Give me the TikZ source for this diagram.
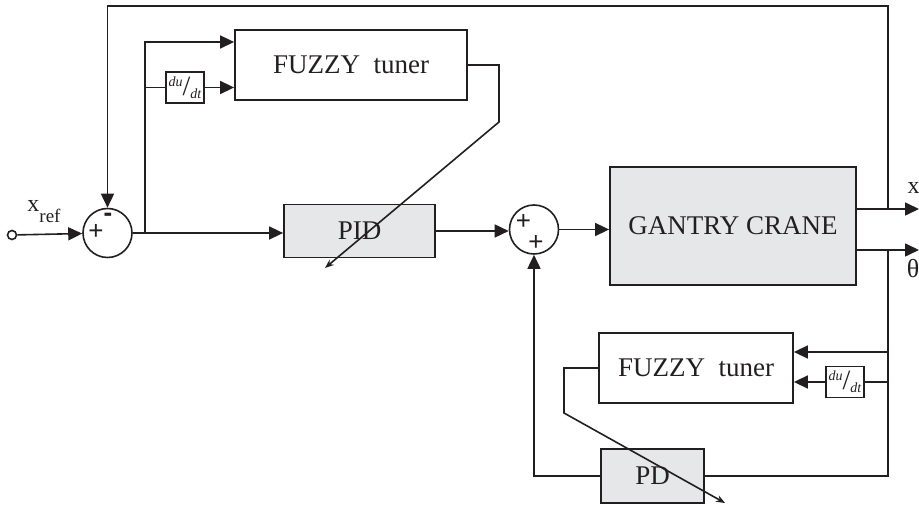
\documentclass[tikz,border=0pt]{standalone}
\usepackage{fontspec}
\setmainfont{Liberation Serif}
\newfontfamily\signfont{Liberation Sans}
\usetikzlibrary{arrows.meta,positioning,calc}
\definecolor{ink}{RGB}{35,31,32}
\definecolor{blockgray}{RGB}{230,231,232}
\newcommand{\dudt}{\raisebox{2pt}{\fontsize{7}{8}\selectfont\itshape du}\raisebox{-2.5pt}{\fontsize{14}{14}\selectfont/}\raisebox{-4pt}{\fontsize{7}{8}\selectfont\itshape dt}}

\begin{document}
\begin{tikzpicture}[x=0.5pt,y=-0.5pt,color=ink,line width=0.8pt,
  >={Triangle[length=7pt,width=6.5pt]},
  block/.style={draw,line width=0.9pt,inner sep=0pt,font=\fontsize{13.5}{15}\selectfont},
  grayblock/.style={block,fill=blockgray},
  sumnode/.style={circle,draw,minimum size=24.5pt,inner sep=0pt},
  dbox/.style={draw,minimum width=19pt,minimum height=15.5pt,inner sep=0pt},
  sign/.style={inner sep=0pt,font=\signfont\fontsize{13}{13}\selectfont},
  tune/.style={-{Stealth[length=4.5pt,width=3.5pt]}}]
\useasboundingbox (0,0) rectangle (919,506);

\node[block,minimum width=116pt,minimum height=35pt] (fuzzyA) at (351,65) {FUZZY\ \ tuner};
\node[dbox] (dtA) at (185,87.5) {\dudt};
\node[grayblock,minimum width=75.5pt,minimum height=26.5pt] (pid) at (359.5,231) {PID};
\node[grayblock,minimum width=123pt,minimum height=59pt] (crane) at (733,226) {GANTRY CRANE};
\node[block,minimum width=97pt,minimum height=35pt] (fuzzyB) at (696,368) {FUZZY\ \ tuner};
\node[dbox] (dtB) at (845,382) {\dudt};
\node[grayblock,minimum width=51.5pt,minimum height=27pt] (pd) at (652.5,476) {PD};
\node[sumnode] (sumA) at (107.5,233) {};
\node[sumnode] (sumB) at (534,229.5) {};
\node[circle,draw,fill=white,minimum size=4.5pt,inner sep=0pt] (xin) at (12,235) {};

\node[sign] (sumAminus) at (108,217) {\bfseries -};
\node[sign] (sumAplus) at (96,232.5) {+};
\node[sign] (sumBplusA) at (523.5,222.5) {+};
\node[sign] (sumBplusB) at (536,243) {+};

\node[inner sep=0pt] (xref) at (44,212) {\fontsize{12}{12}\selectfont x\raisebox{-5.5pt}{\fontsize{9.5}{10}\selectfont ref}};
\node[inner sep=0pt,font=\fontsize{12}{12}\selectfont] (xlab) at (913.5,188) {x};
\node[inner sep=0pt,font=\fontsize{13}{13}\selectfont] (thlab) at (913,269) {θ};

\coordinate (brA) at (145,233);
\coordinate (brAtop) at (145,42);
\coordinate (kinkA) at (499,122);
\coordinate (tipA) at (325,268);
\coordinate (xtap) at (888,209);
\coordinate (thtap) at (888,250);
\coordinate (xend) at (919,209);
\coordinate (thend) at (919,250);
\coordinate (topL) at (107.5,6);
\coordinate (tapB) at (888,352);
\coordinate (kinkB) at (564,413);
\coordinate (tipB) at (725,503);

\draw[->] (xin) -- (sumA);
\draw[->] (sumA) -- (pid.west |- sumA);
\draw[->] (brA) -- (brAtop) -- (fuzzyA.west |- brAtop);
\draw (brA |- dtA) -- (dtA);
\draw[->] (dtA) -- (fuzzyA.west |- dtA);
\draw[tune] (fuzzyA.east) -| (kinkA) -- (tipA);
\draw[->] (pid.east) -- (pid.east -| sumB.west);
\draw[->] (sumB) -- (crane.west |- sumB);
\draw[->] (crane.east |- xtap) -- (xend);
\draw[->] (crane.east |- thtap) -- (thend);
\draw[->] (xtap) |- (topL) -- (sumA);
\draw (thtap) |- (pd.east);
\draw[->] (tapB) -- (fuzzyB.east |- tapB);
\draw (tapB |- dtB) -- (dtB);
\draw[->] (dtB) -- (fuzzyB.east |- dtB);
\draw[tune] (fuzzyB.west) -| (kinkB) -- (tipB);
\draw[->] (pd.west) -| (sumB.south);
\end{tikzpicture}
\end{document}
